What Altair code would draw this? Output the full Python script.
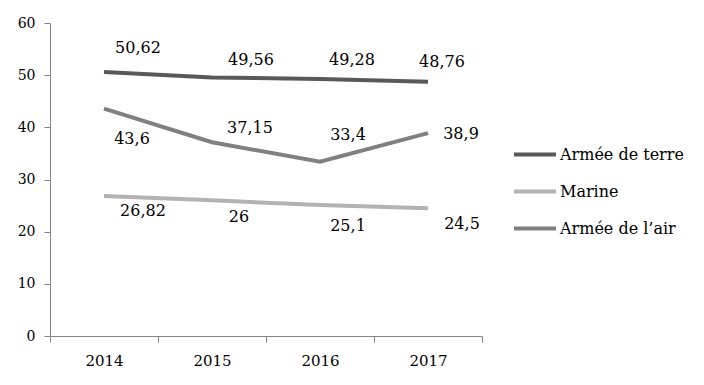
import altair as alt
import pandas as pd

years = ["2014", "2015", "2016", "2017"]
series_names = ["Armée de terre", "Marine", "Armée de l’air"]
terre = [50.62, 49.56, 49.28, 48.76]
marine = [26.82, 26, 25.1, 24.5]
air = [43.6, 37.15, 33.4, 38.9]
colors = ["#595959", "#b3b3b3", "#808080"]

# label offsets (dx, dy) in pixels from each point, per series
label_offsets = {
    "Armée de terre": [(34, -24), (39, -17), (32, -19), (14, -20)],
    "Marine": [(39, 15), (27, 17), (28, 21), (34, 16)],
    "Armée de l’air": [(28, 30), (38, -14), (28, -27), (33, 1)],
}

FONT = "DejaVu Serif"

rows = []
for name, vals in zip(series_names, [terre, marine, air]):
    for yr, v in zip(years, vals):
        rows.append({"year": yr, "series": name, "value": v,
                     "label": f"{v:g}".replace(".", ",")})
df = pd.DataFrame(rows)

x_enc = alt.X(
    "year:N",
    scale=alt.Scale(type="band", paddingInner=0, paddingOuter=0),
    axis=alt.Axis(title=None, labelAngle=0, tickBand="extent", tickSize=6,
                  domainColor="#868686", tickColor="#868686", labelFont=FONT,
                  labelFontSize=15, labelColor="black", labelPadding=11,
                  grid=False),
)
y_enc = alt.Y(
    "value:Q",
    scale=alt.Scale(domain=[0, 60], nice=False),
    axis=alt.Axis(title=None, values=[0, 10, 20, 30, 40, 50, 60], tickSize=6,
                  domainColor="#868686", tickColor="#868686", labelFont=FONT,
                  labelFontSize=14, labelColor="black", labelPadding=9,
                  grid=False),
)

base = alt.Chart(df)

lines = base.mark_line(strokeWidth=4).encode(
    x=x_enc,
    y=y_enc,
    color=alt.Color(
        "series:N",
        scale=alt.Scale(domain=series_names, range=colors),
        sort=series_names,
        legend=alt.Legend(
            title=None, orient="none", legendX=462, legendY=123,
            symbolType="stroke", symbolSize=1764, symbolStrokeWidth=4,
            labelFont=FONT, labelFontSize=16, labelColor="black",
            labelOffset=2, rowPadding=20, clipHeight=17,
        ),
    ),
    order=alt.Order("year:N"),
)

layers = [lines]
for name in series_names:
    for i, yr in enumerate(years):
        dx, dy = label_offsets[name][i]
        t = base.transform_filter(
            (alt.datum.series == name) & (alt.datum.year == yr)
        ).mark_text(font=FONT, fontSize=16, color="black", dx=dx, dy=dy,
                    align="center", baseline="middle").encode(
            x=alt.X("year:N"), y=alt.Y("value:Q"), text="label:N"
        )
        layers.append(t)

chart = alt.layer(*layers).properties(
    width=432, height=313,
    padding={"left": 9, "top": 8, "right": 5, "bottom": 5},
).configure_view(stroke=None)

chart.save("out.html", embed_options={"renderer": "svg", "actions": False})
